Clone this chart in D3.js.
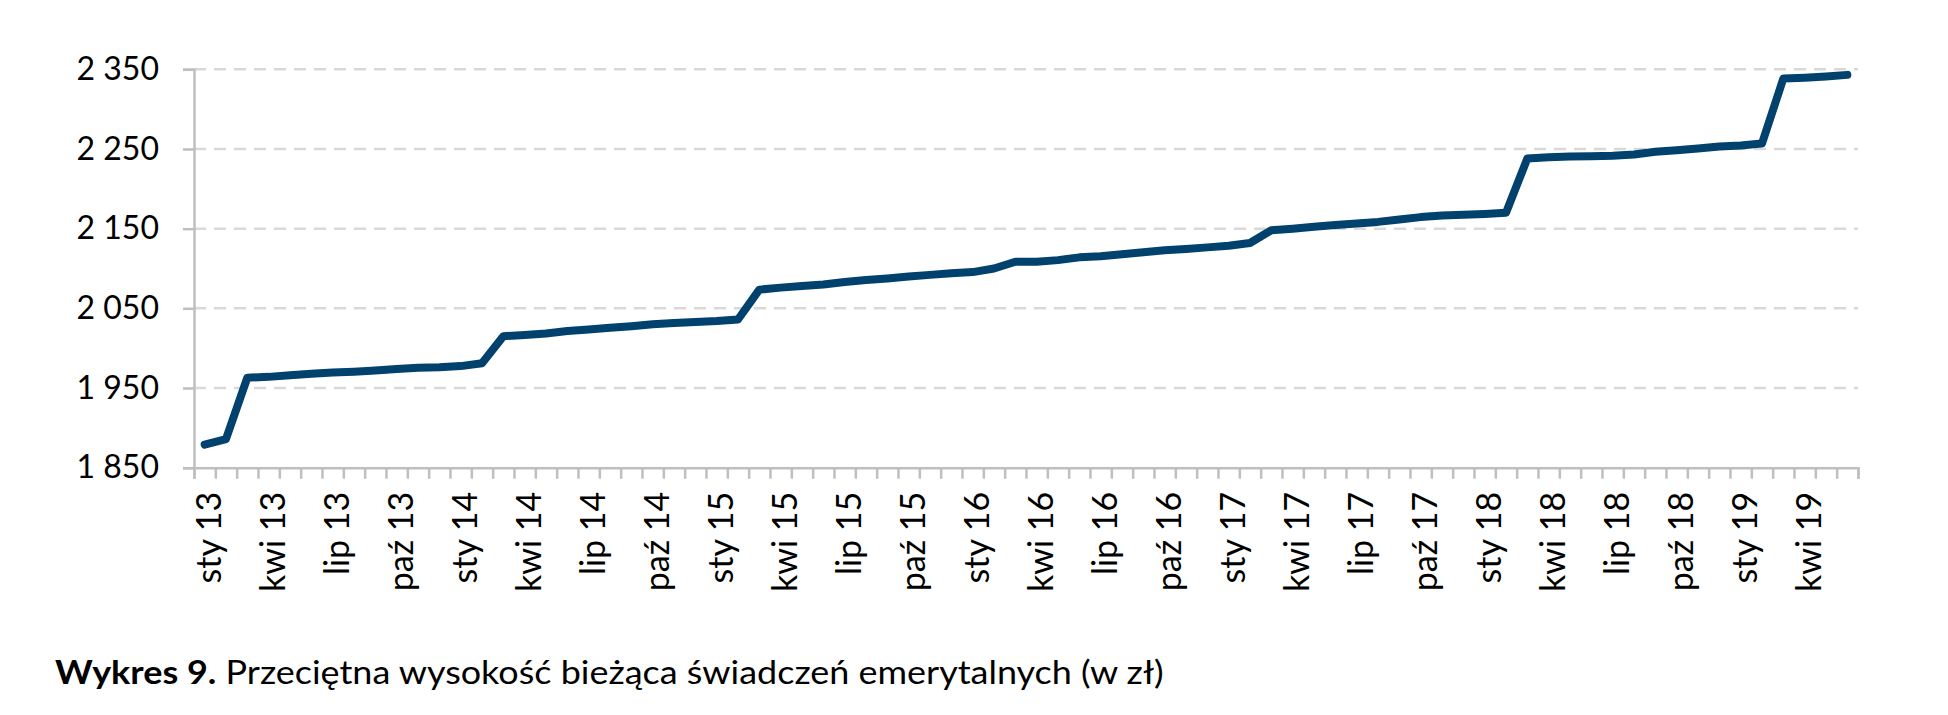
<!DOCTYPE html>
<html>
<head>
<meta charset="utf-8">
<script src="https://cdn.jsdelivr.net/npm/d3@7"></script>
<style>
  body { margin: 0; background: #fff; }
  svg { display: block; font-family: Lato, "Open Sans", sans-serif; }
</style>
</head>
<body>
<div id="chart"></div>
<script>
// month abbreviations (Polish) and years covered
var months = ["sty", "lut", "mar", "kwi", "maj", "cze", "lip", "sie", "wrz", "paź", "lis", "gru"];
var years = [13, 14, 15, 16, 17, 18, 19];

// average current pension benefit, zł (monthly, sty 13 - cze 19)
var values = [
    1879, 1886, 1963, 1964, 1966, 1968, 1969.5, 1970.5, 1972, 1974, 1975.5, 1976,
    1977.5, 1981, 2015, 2016.5, 2018.5, 2021.5, 2023.5, 2025.5, 2027.5, 2030, 2031.5, 2033,
    2034, 2036, 2073.5, 2076, 2078, 2080, 2083, 2085.5, 2087.5, 2090, 2092, 2094,
    2095.5, 2100, 2108.5, 2108.5, 2110.5, 2114, 2115.5, 2118, 2120.5, 2123, 2124.5, 2126.5,
    2128.5, 2132, 2148, 2150, 2152.5, 2154.5, 2156.5, 2158.5, 2161.5, 2164.5, 2166.5, 2167.5,
    2168.5, 2170, 2238, 2239.5, 2240.5, 2241, 2241.5, 2243, 2246.5, 2248.5, 2250.5, 2253,
    2254.5, 2257, 2338.5, 2339.5, 2341, 2343
];

var yTicks = [1850, 1950, 2050, 2150, 2250, 2350];

var categories = [];
years.forEach(function (y) {
    months.forEach(function (m) { categories.push(m + " " + y); });
});
categories = categories.slice(0, values.length);

var W = 1948, H = 715;
var margin = { top: 69.3, right: 90, bottom: 247.3, left: 194 };
var width = W - margin.left - margin.right;
var height = H - margin.top - margin.bottom;
var fontSize = 32;

var svg = d3.select("#chart")
    .append("svg")
    .attr("width", W)
    .attr("height", H);

var g = svg.append("g")
    .attr("transform", `translate(${margin.left},${margin.top})`);

var x = d3.scaleBand()
    .domain(d3.range(categories.length))
    .range([0, width])
    .padding(0);

var xEdge = d3.scaleLinear()
    .domain([0, categories.length])
    .range([0, width]);

var y = d3.scaleLinear()
    .domain([1850, 2350])
    .range([height, 0]);

// gridlines
g.append("g")
    .selectAll("line")
    .data(yTicks.filter(d => d > 1850))
    .join("line")
    .attr("x1", 0)
    .attr("x2", width)
    .attr("y1", d => y(d))
    .attr("y2", d => y(d))
    .attr("stroke", "#d9d9d9")
    .attr("stroke-width", 2.5)
    .attr("stroke-dasharray", "12,8");

// y axis
var yAxis = g.append("g")
    .call(d3.axisLeft(y).tickValues(yTicks).tickSize(11).tickPadding(24)
        .tickFormat(d => d3.format(",")(d).replace(",", " ")));
yAxis.select(".domain").attr("stroke", "#bfbfbf").attr("stroke-width", 2.5);
yAxis.selectAll(".tick line").attr("stroke", "#bfbfbf").attr("stroke-width", 2.5);
yAxis.selectAll("text")
    .attr("font-size", fontSize + "px")
    .attr("font-family", "Lato, sans-serif")
    .attr("fill", "#000");

// x axis (ticks between categories)
var xAxis = g.append("g")
    .attr("transform", `translate(0,${height})`)
    .call(d3.axisBottom(xEdge).tickValues(d3.range(categories.length + 1)).tickSize(11).tickFormat(""));
xAxis.select(".domain").attr("stroke", "#bfbfbf").attr("stroke-width", 2.5);
xAxis.selectAll(".tick line").attr("stroke", "#bfbfbf").attr("stroke-width", 2.5);

// x labels every 3rd month
g.append("g")
    .selectAll("text")
    .data(categories.map((c, i) => ({ c, i })).filter(d => d.i % 3 === 0))
    .join("text")
    .attr("transform", d => `translate(${x(d.i) + x.bandwidth() / 2 + 3},${height + 24}) rotate(-90)`)
    .attr("text-anchor", "end")
    .attr("dominant-baseline", "central")
    .attr("font-size", "34px")
    .attr("fill", "#000")
    .text(d => d.c);

// the series
g.append("path")
    .datum(values)
    .attr("fill", "none")
    .attr("stroke", "#01416d")
    .attr("stroke-width", 8)
    .attr("stroke-linejoin", "round")
    .attr("stroke-linecap", "round")
    .attr("d", d3.line()
        .x((d, i) => x(i) + x.bandwidth() / 2)
        .y(d => y(d)));

// caption
var caption = svg.append("text")
    .attr("transform", "translate(55,684) scale(1.09,1)")
    .attr("font-size", "33px")
    .attr("fill", "#000");
caption.append("tspan").attr("font-weight", "bold").text("Wykres 9.");
caption.append("tspan").text(" Przeciętna wysokość bieżąca świadczeń emerytalnych (w zł)");
</script>
</body>
</html>
